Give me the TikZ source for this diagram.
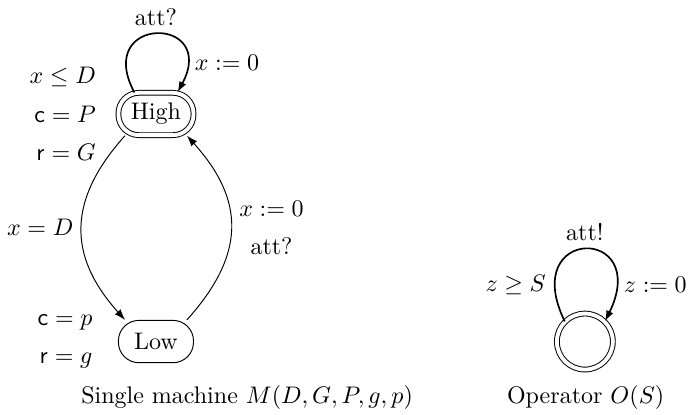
\documentclass[tikz,border=0pt]{standalone}
\usepackage{amsmath,amssymb}
\usepackage{tikz}
\usetikzlibrary{arrows.meta,positioning}

\begin{document}
\begin{tikzpicture}[
  x=1cm,y=1cm,
  loc/.style={
    draw=black,
    line width=0.4pt,
    rectangle,
    rounded corners=0.3cm,
    minimum width=1.1cm,
    minimum height=0.62cm
  },
  init/.style={double, double distance=1.6pt},
  opstate/.style={draw=black, circle, minimum size=0.82cm, line width=0.4pt},
  trans/.style={
    draw=black,
    line width=0.4pt,
    -{Latex[length=4.5pt,width=3.2pt]}
  },
  selfloop/.style={trans, line width=0.7pt},
  lbl/.style={align=right},
]

\useasboundingbox (0,0) rectangle (10.08,6.08);

% Locations of the machine
\node[loc, init] (High) at (2.285,4.41) {High};
\node[loc, below=2.7cm of High] (Low) {Low};

% Invariant, cost and reward of each location
\node[lbl, left=0.2cm of High] (invH) {$x \leq D$\\[4pt] $\mathsf{c} = P$\\[4pt] $\mathsf{r} = G$};
\node[lbl, left=0.25cm of Low] (invL) {$\mathsf{c} = p$\\[4pt] $\mathsf{r} = g$};

% Transitions
\draw[selfloop] (High.135) to[out=118,in=62,looseness=5.2]
  node[above] {att?}
  node[pos=0.85, right] {$x := 0$} (High.45);
\draw[trans] (High.215) to[out=228,in=132,looseness=1.2]
  node[left] {$x = D$} (Low.145);
\draw[trans] (Low.35) to[out=48,in=312,looseness=1.22]
  node[right, align=center] {$x := 0$\\[4pt] att?} (High.325);

% Operator
\node[opstate, init, right=5.31cm of Low] (Op) {};
\draw[selfloop] (Op.135) to[out=116,in=64,looseness=6.8]
  node[above] {att!}
  node[pos=0.15, left] {$z \geq S$}
  node[pos=0.85, right] {$z := 0$} (Op.45);

% Captions
\node (capM) at (3.62,0.25) {Single machine $M(D,G,P,g,p)$};
\node (capO) at (8.58,0.25) {Operator $O(S)$};

\end{tikzpicture}
\end{document}
